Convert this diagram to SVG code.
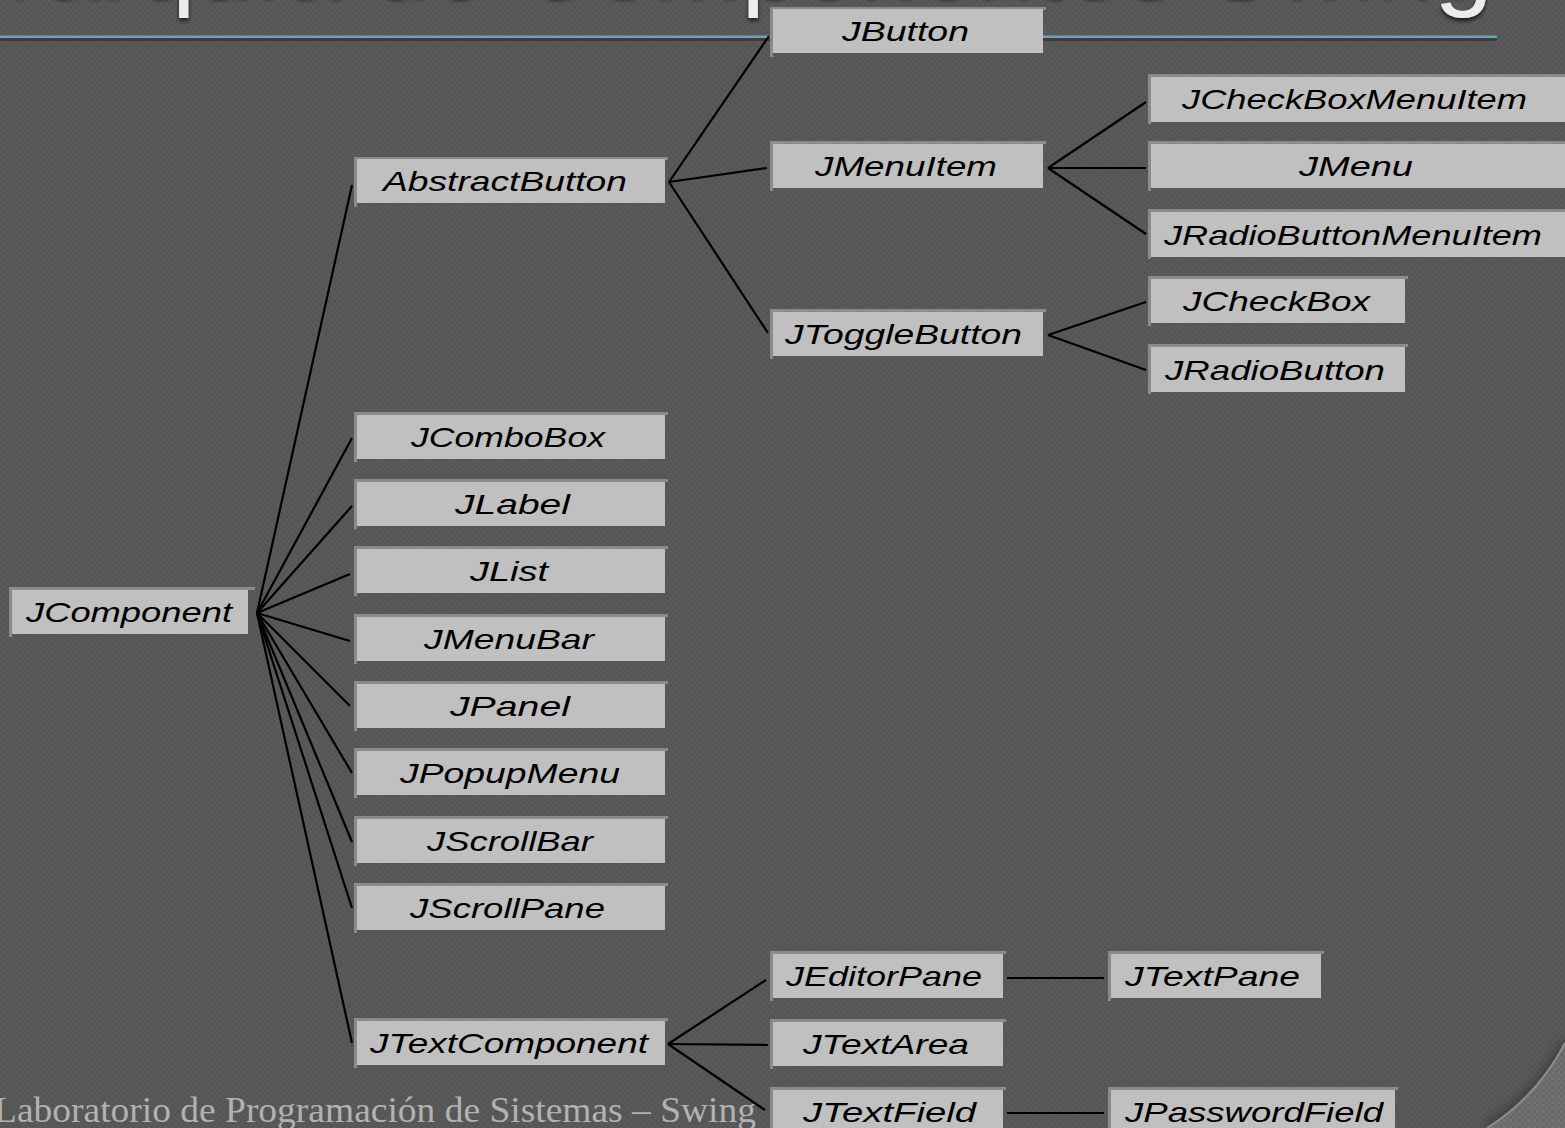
<svg xmlns="http://www.w3.org/2000/svg" width="1565" height="1128" viewBox="0 0 1565 1128">
  <defs>
    <pattern id="bg" width="6" height="6" patternUnits="userSpaceOnUse">
      <rect width="6" height="6" fill="#555555"/>
      <rect width="3" height="3" fill="#5a5a5a"/>
      <rect x="3" y="3" width="3" height="3" fill="#5a5a5a"/>
    </pattern>
    <pattern id="bgOuter" width="6" height="6" patternUnits="userSpaceOnUse">
      <rect width="6" height="6" fill="#686868"/>
      <rect width="3" height="3" fill="#727272"/>
      <rect x="3" y="3" width="3" height="3" fill="#727272"/>
    </pattern>
    <filter id="titleShadow" x="-5%" y="-50%" width="110%" height="200%">
      <feDropShadow dx="0" dy="3" stdDeviation="2" flood-color="#000" flood-opacity="0.7"/>
    </filter>
    <filter id="soft" x="-20%" y="-20%" width="140%" height="140%">
      <feGaussianBlur stdDeviation="4"/>
    </filter>
  </defs>
  <style>
    .edge { fill: #8b8b8b; }
    .fill { fill: #c0c0c0; }
    .lbl { font-family: "Liberation Sans", Arial, sans-serif; font-style: italic; font-size: 28px; fill: #000; }
    .conn line { stroke: #000; stroke-width: 2.2; fill: none; }
  </style>

  <!-- slide background -->
  <rect width="1565" height="1128" fill="url(#bg)"/>

  <!-- rounded panel corner, bottom right -->
  <path d="M1565,1043 A220,220 0 0 1 1487,1128" fill="none" stroke="#2e2e2e" stroke-width="10" opacity="0.6" filter="url(#soft)"/>
  <path d="M1565,1043 A220,220 0 0 1 1487,1128 L1565,1128 Z" fill="url(#bgOuter)"/>
  <path d="M1565,1043 A220,220 0 0 1 1487,1128" fill="none" stroke="#8e8e8e" stroke-width="2"/>

  <!-- title (mostly above the visible area) -->
  <text x="-104" y="-4" textLength="1597" lengthAdjust="spacingAndGlyphs" font-family="'Liberation Sans', Arial, sans-serif" font-size="106" fill="#ececec" filter="url(#titleShadow)">Jerarquía de Componentes Swing</text>

  <!-- title rule -->
  <rect x="0" y="38" width="1497" height="3" fill="#3c3c3c"/>
  <rect x="0" y="35.5" width="1497" height="2.5" fill="#69a6b2"/>

  <!-- footer -->
  <text x="-6" y="1122" textLength="762" lengthAdjust="spacingAndGlyphs" font-family="'Liberation Serif', 'Times New Roman', serif" font-size="36" fill="#b2b2b2">Laboratorio de Programación de Sistemas – Swing</text>

  <!-- connectors -->
  <g id="connectors" class="conn">
    <!-- JComponent -->
    <line x1="257" y1="613" x2="352" y2="185"/>
    <line x1="257" y1="613" x2="352" y2="438"/>
    <line x1="257" y1="613" x2="352" y2="506"/>
    <line x1="257" y1="613" x2="350" y2="574"/>
    <line x1="257" y1="613" x2="350" y2="641"/>
    <line x1="257" y1="613" x2="350" y2="706"/>
    <line x1="257" y1="613" x2="352" y2="773"/>
    <line x1="257" y1="613" x2="352" y2="842"/>
    <line x1="257" y1="613" x2="352" y2="908"/>
    <line x1="257" y1="613" x2="352" y2="1043"/>
    <!-- AbstractButton -->
    <line x1="669" y1="182" x2="769" y2="36"/>
    <line x1="669" y1="182" x2="767" y2="168"/>
    <line x1="669" y1="182" x2="768" y2="333"/>
    <!-- JMenuItem -->
    <line x1="1048" y1="168" x2="1146" y2="102"/>
    <line x1="1048" y1="168" x2="1146" y2="168"/>
    <line x1="1048" y1="168" x2="1146" y2="234"/>
    <!-- JToggleButton -->
    <line x1="1048" y1="335" x2="1146" y2="302"/>
    <line x1="1048" y1="335" x2="1146" y2="370"/>
    <!-- JTextComponent -->
    <line x1="668" y1="1044" x2="766" y2="980"/>
    <line x1="668" y1="1044" x2="768" y2="1045"/>
    <line x1="668" y1="1044" x2="765" y2="1110"/>
    <!-- JEditorPane / JTextField -->
    <line x1="1007" y1="978" x2="1104" y2="978"/>
    <line x1="1007" y1="1113" x2="1104" y2="1113"/>
  </g>

  <!-- nodes: box = top/left bevel edge + light fill + label -->
  <g id="JComponent">
    <rect class="edge" x="9" y="587" width="246" height="3"/><rect class="edge" x="9" y="587" width="3" height="50"/>
    <rect class="fill" x="12" y="590" width="236" height="44"/>
    <text class="lbl" x="26" y="622" textLength="206" lengthAdjust="spacingAndGlyphs">JComponent</text>
  </g>

  <g id="AbstractButton">
    <rect class="edge" x="354" y="157" width="314" height="3"/><rect class="edge" x="354" y="157" width="3" height="50"/>
    <rect class="fill" x="357" y="159" width="308" height="44"/>
    <text class="lbl" x="383" y="191" textLength="244" lengthAdjust="spacingAndGlyphs">AbstractButton</text>
  </g>
  <g id="JComboBox">
    <rect class="edge" x="354" y="412" width="314" height="3"/><rect class="edge" x="354" y="412" width="3" height="50"/>
    <rect class="fill" x="357" y="415" width="308" height="44"/>
    <text class="lbl" x="411" y="447" textLength="194" lengthAdjust="spacingAndGlyphs">JComboBox</text>
  </g>
  <g id="JLabel">
    <rect class="edge" x="354" y="479" width="314" height="3"/><rect class="edge" x="354" y="479" width="3" height="50"/>
    <rect class="fill" x="357" y="482" width="308" height="44"/>
    <text class="lbl" x="455" y="514" textLength="115" lengthAdjust="spacingAndGlyphs">JLabel</text>
  </g>
  <g id="JList">
    <rect class="edge" x="354" y="546" width="314" height="3"/><rect class="edge" x="354" y="546" width="3" height="50"/>
    <rect class="fill" x="357" y="549" width="308" height="44"/>
    <text class="lbl" x="470" y="581" textLength="78" lengthAdjust="spacingAndGlyphs">JList</text>
  </g>
  <g id="JMenuBar">
    <rect class="edge" x="354" y="614" width="314" height="3"/><rect class="edge" x="354" y="614" width="3" height="50"/>
    <rect class="fill" x="357" y="617" width="308" height="44"/>
    <text class="lbl" x="424" y="649" textLength="170" lengthAdjust="spacingAndGlyphs">JMenuBar</text>
  </g>
  <g id="JPanel">
    <rect class="edge" x="354" y="681" width="314" height="3"/><rect class="edge" x="354" y="681" width="3" height="50"/>
    <rect class="fill" x="357" y="684" width="308" height="44"/>
    <text class="lbl" x="450" y="716" textLength="120" lengthAdjust="spacingAndGlyphs">JPanel</text>
  </g>
  <g id="JPopupMenu">
    <rect class="edge" x="354" y="748" width="314" height="3"/><rect class="edge" x="354" y="748" width="3" height="50"/>
    <rect class="fill" x="357" y="751" width="308" height="44"/>
    <text class="lbl" x="400" y="783" textLength="220" lengthAdjust="spacingAndGlyphs">JPopupMenu</text>
  </g>
  <g id="JScrollBar">
    <rect class="edge" x="354" y="816" width="314" height="3"/><rect class="edge" x="354" y="816" width="3" height="50"/>
    <rect class="fill" x="357" y="819" width="308" height="44"/>
    <text class="lbl" x="427" y="851" textLength="166" lengthAdjust="spacingAndGlyphs">JScrollBar</text>
  </g>
  <g id="JScrollPane">
    <rect class="edge" x="354" y="883" width="314" height="3"/><rect class="edge" x="354" y="883" width="3" height="50"/>
    <rect class="fill" x="357" y="886" width="308" height="44"/>
    <text class="lbl" x="410" y="918" textLength="195" lengthAdjust="spacingAndGlyphs">JScrollPane</text>
  </g>
  <g id="JTextComponent">
    <rect class="edge" x="354" y="1018" width="314" height="3"/><rect class="edge" x="354" y="1018" width="3" height="50"/>
    <rect class="fill" x="357" y="1021" width="308" height="44"/>
    <text class="lbl" x="370" y="1053" textLength="278" lengthAdjust="spacingAndGlyphs">JTextComponent</text>
  </g>

  <g id="JButton">
    <rect class="edge" x="770" y="7" width="276" height="3"/><rect class="edge" x="770" y="7" width="3" height="50"/>
    <rect class="fill" x="773" y="9" width="270" height="44"/>
    <text class="lbl" x="842" y="41" textLength="127" lengthAdjust="spacingAndGlyphs">JButton</text>
  </g>
  <g id="JMenuItem">
    <rect class="edge" x="770" y="141" width="276" height="3"/><rect class="edge" x="770" y="141" width="3" height="50"/>
    <rect class="fill" x="773" y="144" width="270" height="44"/>
    <text class="lbl" x="815" y="176" textLength="182" lengthAdjust="spacingAndGlyphs">JMenuItem</text>
  </g>
  <g id="JToggleButton">
    <rect class="edge" x="770" y="309" width="276" height="3"/><rect class="edge" x="770" y="309" width="3" height="50"/>
    <rect class="fill" x="773" y="312" width="270" height="44"/>
    <text class="lbl" x="785" y="344" textLength="237" lengthAdjust="spacingAndGlyphs">JToggleButton</text>
  </g>
  <g id="JEditorPane">
    <rect class="edge" x="770" y="951" width="236" height="3"/><rect class="edge" x="770" y="951" width="3" height="50"/>
    <rect class="fill" x="773" y="954" width="230" height="44"/>
    <text class="lbl" x="786" y="986" textLength="196" lengthAdjust="spacingAndGlyphs">JEditorPane</text>
  </g>
  <g id="JTextArea">
    <rect class="edge" x="770" y="1019" width="236" height="3"/><rect class="edge" x="770" y="1019" width="3" height="50"/>
    <rect class="fill" x="773" y="1022" width="230" height="44"/>
    <text class="lbl" x="803" y="1054" textLength="166" lengthAdjust="spacingAndGlyphs">JTextArea</text>
  </g>
  <g id="JTextField">
    <rect class="edge" x="770" y="1087" width="236" height="3"/><rect class="edge" x="770" y="1087" width="3" height="50"/>
    <rect class="fill" x="773" y="1090" width="230" height="44"/>
    <text class="lbl" x="803" y="1122" textLength="173" lengthAdjust="spacingAndGlyphs">JTextField</text>
  </g>

  <g id="JTextPane">
    <rect class="edge" x="1108" y="951" width="216" height="3"/><rect class="edge" x="1108" y="951" width="3" height="50"/>
    <rect class="fill" x="1111" y="954" width="210" height="44"/>
    <text class="lbl" x="1125" y="986" textLength="175" lengthAdjust="spacingAndGlyphs">JTextPane</text>
  </g>
  <g id="JPasswordField">
    <rect class="edge" x="1108" y="1087" width="290" height="3"/><rect class="edge" x="1108" y="1087" width="3" height="50"/>
    <rect class="fill" x="1111" y="1090" width="284" height="44"/>
    <text class="lbl" x="1125" y="1122" textLength="258" lengthAdjust="spacingAndGlyphs">JPasswordField</text>
  </g>

  <g id="JCheckBoxMenuItem">
    <rect class="edge" x="1148" y="74" width="420" height="3"/><rect class="edge" x="1148" y="74" width="3" height="50"/>
    <rect class="fill" x="1151" y="77" width="420" height="45"/>
    <text class="lbl" x="1182" y="109" textLength="345" lengthAdjust="spacingAndGlyphs">JCheckBoxMenuItem</text>
  </g>
  <g id="JMenu">
    <rect class="edge" x="1148" y="141" width="420" height="3"/><rect class="edge" x="1148" y="141" width="3" height="50"/>
    <rect class="fill" x="1151" y="144" width="420" height="44"/>
    <text class="lbl" x="1299" y="176" textLength="114" lengthAdjust="spacingAndGlyphs">JMenu</text>
  </g>
  <g id="JRadioButtonMenuItem">
    <rect class="edge" x="1148" y="209" width="420" height="3"/><rect class="edge" x="1148" y="209" width="3" height="50"/>
    <rect class="fill" x="1151" y="212" width="420" height="45"/>
    <text class="lbl" x="1164" y="245" textLength="378" lengthAdjust="spacingAndGlyphs">JRadioButtonMenuItem</text>
  </g>
  <g id="JCheckBox">
    <rect class="edge" x="1148" y="276" width="260" height="3"/><rect class="edge" x="1148" y="276" width="3" height="50"/>
    <rect class="fill" x="1151" y="279" width="254" height="44"/>
    <text class="lbl" x="1183" y="311" textLength="187" lengthAdjust="spacingAndGlyphs">JCheckBox</text>
  </g>
  <g id="JRadioButton">
    <rect class="edge" x="1148" y="344" width="260" height="3"/><rect class="edge" x="1148" y="344" width="3" height="50"/>
    <rect class="fill" x="1151" y="347" width="254" height="45"/>
    <text class="lbl" x="1165" y="380" textLength="220" lengthAdjust="spacingAndGlyphs">JRadioButton</text>
  </g>
</svg>
